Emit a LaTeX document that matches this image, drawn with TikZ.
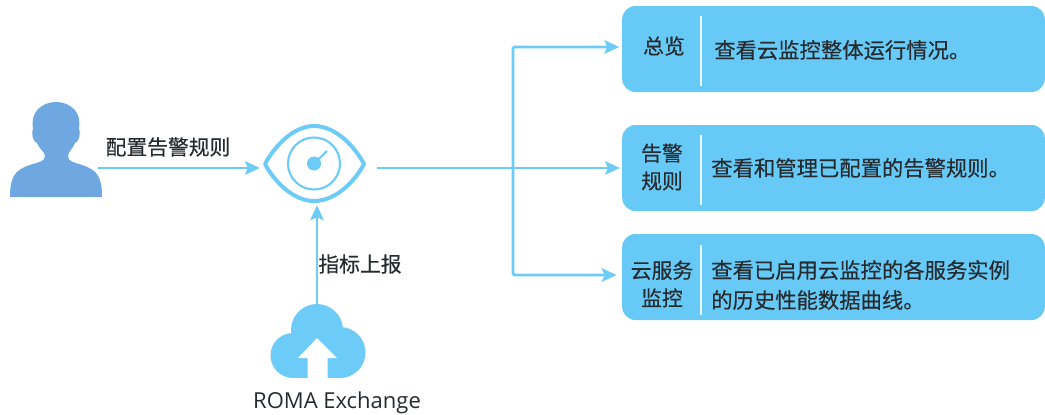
\documentclass[tikz,border=0pt]{standalone}
\usepackage{fontspec}
\setmainfont[FakeBold=0.35]{Noto Sans CJK SC}
\newfontfamily\latinfont{Open Sans}
\usetikzlibrary{arrows.meta}
\definecolor{flow}{HTML}{6CCBF7}
\definecolor{panel}{HTML}{67C9F6}
\definecolor{figure}{HTML}{6FA8E0}
\definecolor{ink}{HTML}{262B30}
\newcommand\tightlines{\setlength{\lineskiplimit}{-20pt}}
\newcommand\labelfont{\fontsize{15.6pt}{20.8pt}\selectfont\tightlines}
\newcommand\descfont{\fontsize{16pt}{22.5pt}\selectfont\tightlines}
\tikzset{
  x=0.75pt,y=-0.75pt,
  flowline/.style={draw=flow,line width=2.2pt,-{Stealth[length=11pt,width=10pt,inset=2pt]}},
  panelbox/.style={fill=panel,rounded corners=10pt,minimum width=317pt,minimum height=64.5pt,inner sep=0pt},
  dividerline/.style={draw=white!85!panel,line width=1.5pt},
  holder/.style={inner sep=0pt,outer sep=0pt},
  labeltext/.style={font=\labelfont,text=ink,inner sep=0pt,align=center},
  desc/.style={font=\descfont,text=ink,inner sep=0pt,align=left,anchor=west},
}
\begin{document}
\begin{tikzpicture}
\useasboundingbox (0,0) rectangle (1045,414);
% panels
\node[panelbox] (p1) at (833.5,49) {};
\node[panelbox] (p2) at (833.5,168) {};
\node[panelbox] (p3) at (833.5,277) {};
\draw[dividerline] (701,16) -- (701,86);
\draw[dividerline] (701,135) -- (701,205);
\draw[dividerline] (701,245) -- (701,315);
\node[labeltext] (l1) at (664,46) {总览};
\node[labeltext] (l2) at (662,167) {告警\\规则};
\node[labeltext] (l3) at (662,284) {云服务\\监控};
\node[desc] (d1) at (714,50) {查看云监控整体运行情况。};
\node[desc] (d2) at (711,168) {查看和管理已配置的告警规则。};
\node[desc] (d3) at (711,285) {查看已启用云监控的各服务实例\\的历史性能数据曲线。};
% person
\fill[figure] (10,197) .. controls (10,178) and (14,170) .. (30,165)
  .. controls (38,162) and (45,162) .. (45,156) .. controls (45,152) and (40,150) .. (37,143)
  .. controls (33,142) and (31,134) .. (33,128) .. controls (30,112) and (42,102) .. (56,102)
  .. controls (70,102) and (82,112) .. (79,128) .. controls (81,134) and (79,142) .. (75,143)
  .. controls (72,150) and (68,152) .. (68,156) .. controls (68,162) and (74,162) .. (82,165)
  .. controls (98,170) and (102,178) .. (102,197) -- cycle;
\node[holder,minimum width=66pt,minimum height=71pt] (person) at (54,150) {};
% eye
\draw[flow,line width=3pt,line join=round] (265,164) .. controls (274,147) and (293,126) .. (314,126)
  .. controls (336,126) and (355,147) .. (364,164)
  .. controls (355,181) and (336,201) .. (314,201)
  .. controls (293,201) and (274,181) .. (265,164) -- cycle;
\draw[flow,line width=1.6pt] (314,163.5) circle[radius=26];
\fill[flow] (314,163.5) circle[radius=7];
\draw[flow,line width=1.6pt] (314,163.5) -- (327,151);
\node[holder,minimum width=76pt,minimum height=58pt] (eye) at (314.5,164) {};
% cloud
\fill[flow] (293,355.5) circle[radius=22.5];
\fill[flow] (317,330) circle[radius=26];
\fill[flow] (340,352.5) circle[radius=25.5];
\fill[flow] (293,335) rectangle (341,378);
\fill[white] (317,338) -- (337,358) -- (327.5,358) -- (327.5,379) -- (307.5,379) -- (307.5,358) -- (298,358) -- cycle;
\node[holder,minimum width=72pt,minimum height=55pt] (cloud) at (317,341) {};
% connectors
\coordinate (trunk) at (513,168);
\coordinate (topbend) at (513,47);
\coordinate (lowbend) at (513,275);
\draw[flowline] (person.east |- trunk) -- ([xshift=-3pt]eye.west |- trunk);
\draw[flowline] (cloud.north) -- ([yshift=-2pt]cloud.north |- eye.south);
\draw[flowline] ([xshift=9pt]eye.east |- trunk) -- ([xshift=-1.5pt]p2.west |- trunk);
\draw[flowline,rounded corners=1pt] (trunk) -- (topbend) -- ([xshift=-2pt]p1.west |- topbend);
\draw[flowline,rounded corners=1pt] (trunk) -- (lowbend) -- ([xshift=-4pt]p3.west |- lowbend);
% labels
\node[labeltext] (t1) at (168,147) {配置告警规则};
\node[labeltext] (t2) at (360,264) {指标上报};
\node[font=\latinfont\fontsize{16.5pt}{18pt}\selectfont,text=ink,inner sep=0pt] (t3) at (337,402.5) {ROMA Exchange};
\end{tikzpicture}
\end{document}
